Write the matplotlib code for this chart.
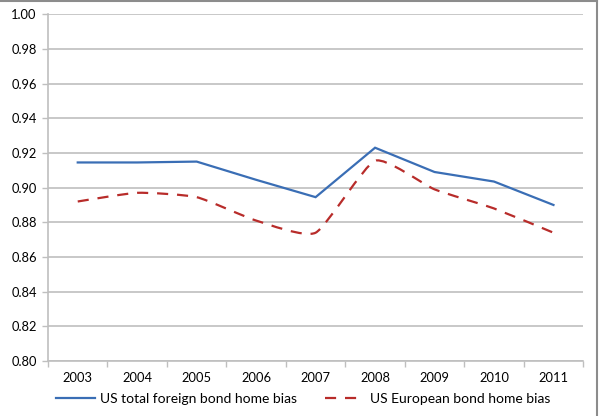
import numpy as np
import matplotlib.pyplot as plt
from matplotlib.path import Path
from matplotlib.patches import PathPatch
from matplotlib.lines import Line2D

years = ["2003", "2004", "2005", "2006", "2007", "2008", "2009", "2010", "2011"]
total_bias = [0.9145, 0.9145, 0.915, 0.9045, 0.8945, 0.923, 0.909, 0.9035, 0.890]
europe_bias = [0.892, 0.897, 0.8945, 0.881, 0.874, 0.9155, 0.899, 0.888, 0.874]
yticks = [0.80, 0.82, 0.84, 0.86, 0.88, 0.90, 0.92, 0.94, 0.96, 0.98, 1.00]

blue = "#3A6EB5"
red = "#B82C2A"
grid = "#BFBFBF"

plt.rcParams['font.family'] = ['Lato', 'DejaVu Sans']

fig = plt.figure(figsize=(6, 4.16), dpi=100)
ax = fig.add_axes([0.08, 0.132, 0.892, 0.834])

x = np.arange(len(years))

ax.plot(x, total_bias, color=blue, lw=1.6, solid_joinstyle='miter')


def smooth_path(xs, ys, t=0.09):
    # smoothed line as cubic bezier segments
    pts = np.column_stack([xs, ys])
    verts = [pts[0]]
    codes = [Path.MOVETO]
    n = len(pts)
    for i in range(n - 1):
        p0 = pts[max(i - 1, 0)]
        p1 = pts[i]
        p2 = pts[i + 1]
        p3 = pts[min(i + 2, n - 1)]
        c1 = p1 + (p2 - p0) * t
        c2 = p2 - (p3 - p1) * t
        verts += [c1, c2, p2]
        codes += [Path.CURVE4] * 3
    return Path(verts, codes)


patch = PathPatch(smooth_path(x, europe_bias), facecolor='none', edgecolor=red,
                  lw=1.6, linestyle=(0, (5, 4)))
ax.add_patch(patch)

ax.set_xlim(-0.5, len(years) - 0.5)
ax.set_ylim(0.80, 1.00)
ax.set_yticks(yticks)
ax.set_yticklabels([f"{v:.2f}" for v in yticks])
ax.set_xticks(x)
ax.set_xticklabels(years)
ax.set_xticks(np.arange(-0.5, len(years)), minor=True)
ax.tick_params(axis='x', which='major', length=0, pad=8, labelsize=9.3)
ax.tick_params(axis='x', which='minor', length=4, color=grid, width=1)
ax.tick_params(axis='y', length=4, color=grid, width=1, labelsize=9.3, pad=4)

ax.grid(axis='y', color=grid, lw=1.2)
ax.set_axisbelow(True)
for s in ['top', 'right']:
    ax.spines[s].set_visible(False)
for s in ['left', 'bottom']:
    ax.spines[s].set_color(grid)
    ax.spines[s].set_linewidth(1.2)

handles = [Line2D([0], [0], color=blue, lw=1.6),
           Line2D([0], [0], color=red, lw=1.6, linestyle=(0, (5, 4)))]
labels = ["US total foreign bond home bias", "US European bond home bias"]
fig.legend(handles, labels, loc='center', bbox_to_anchor=(0.505, 0.04), ncol=2,
           frameon=False, fontsize=10, handlelength=2.8, handletextpad=0.4,
           columnspacing=2.0)

# figure border (top and right visible in the original)
fig.add_artist(Line2D([0, 0.995], [0.998, 0.998], color="#8C8C8C", lw=1.5,
                      transform=fig.transFigure))
fig.add_artist(Line2D([0.995, 0.995], [0, 0.998], color="#8C8C8C", lw=1.5,
                      transform=fig.transFigure))

fig.savefig("out.png", dpi=100, facecolor='white')
